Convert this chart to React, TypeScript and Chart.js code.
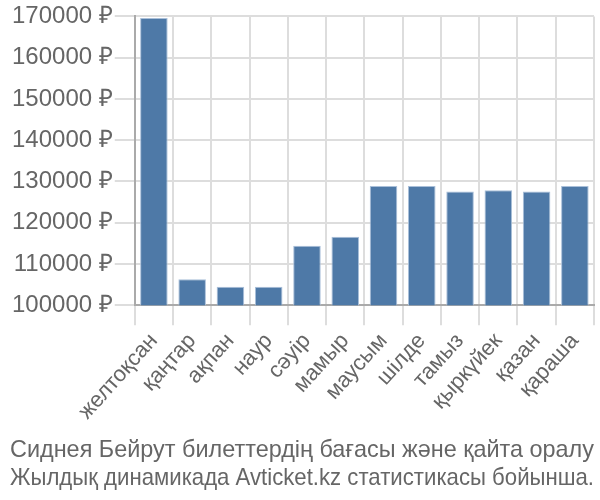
import React, { useEffect, useRef } from "react";
import { Chart, registerables } from "chart.js";

Chart.register(...registerables);

const categories = ["желтоқсан", "қаңтар", "ақпан", "наур", "сәуір", "мамыр", "маусым", "шілде", "тамыз", "қыркүйек", "қазан", "қараша"];
const prices = [169600, 106300, 104500, 104500, 114400, 116600, 128900, 128900, 127600, 127900, 127600, 128900];
const titleLines = ["Сиднея Бейрут билеттердің бағасы және қайта оралу", "Жылдық динамикада Avticket.kz статистикасы бойынша."];

const FONT = "'Liberation Sans', Arial, sans-serif";

export default function App() {
  const ref = useRef<HTMLCanvasElement>(null);
  useEffect(() => {
    document.body.style.margin = "0";
    const chart = new Chart(ref.current!, {
      type: "bar",
      data: {
        labels: categories,
        datasets: [
          {
            data: prices,
            backgroundColor: "#4e79a7",
            borderColor: "#a9bfd9",
            borderWidth: 1,
          },
        ],
      },
      options: {
        responsive: false,
        animation: false,
        layout: { padding: { right: 6, left: 10, top: 0 } },
        plugins: {
          legend: { display: false },
          tooltip: { enabled: false },
          title: {
            display: true,
            position: "bottom",
            text: titleLines,
            color: "#666",
            font: { family: FONT, size: 24, weight: "normal", lineHeight: 1.17 },
            padding: { top: 8, bottom: 8 },
          },
        },
        scales: {
          x: {
            grid: { color: "#ddd", lineWidth: 2, tickLength: 20, offset: true },
            border: { color: "#aaa", width: 2 },
            ticks: {
              color: "#666",
              font: { family: FONT, size: 22 },
              minRotation: 48,
              maxRotation: 48,
              autoSkip: false,
            },
          },
          y: {
            min: 100000,
            max: 170000,
            grid: { color: "#ddd", lineWidth: 2, tickLength: 20 },
            border: { color: "#aaa", width: 2 },
            ticks: {
              stepSize: 10000,
              color: "#666",
              padding: 2,
              font: { family: FONT, size: 24 },
              callback: (v: any) => `${v} ₽`,
            },
          },
        },
      },
    });
    return () => chart.destroy();
  }, []);
  return <canvas ref={ref} width={600} height={500} style={{ display: "block" }} />;
}
